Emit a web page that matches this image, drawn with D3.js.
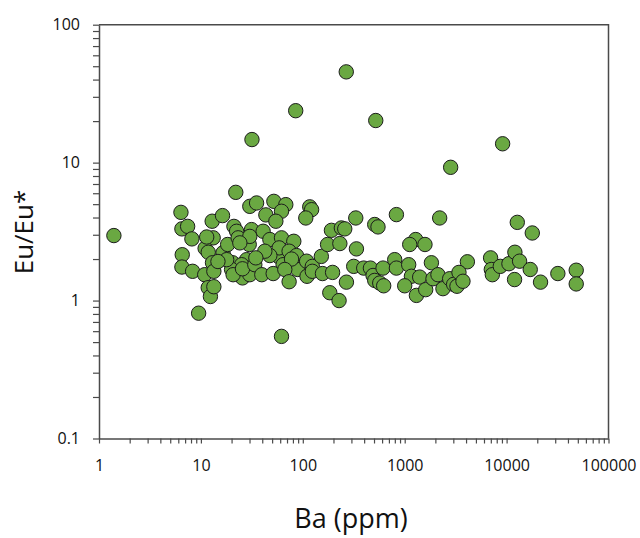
<script src="https://cdn.jsdelivr.net/npm/d3@7/dist/d3.min.js"></script>
<style>
  body { margin: 0; background: #fff; }
  text { font-family: "Open Sans", sans-serif; }
</style>
<div class="vis"></div>
<script>
  // Ba (ppm) vs Eu/Eu*
  const ba = [
    1.40, 6.37, 6.51, 7.41, 8.16, 6.56, 6.51, 8.29, 10.9, 11.8, 12.4, 13.4, 9.5, 12.9, 16.3,
    13.2, 11.0, 11.8, 13.0, 13.4, 16.5, 18.3, 20.5, 22.0, 21.1, 22.4, 23.2, 25.6, 30.2, 28.1,
    25.1, 29.8, 30.2, 35.2, 31.4, 11.4, 30.2, 20.0, 20.7, 25.6,
    17.9, 24.1, 58.6, 14.7, 33.8, 39.6, 89.3,
    52.0, 68.1, 61.8, 43.4, 54.4, 117, 122, 107, 40.8, 47.5, 61.8, 81.6, 58.6, 73.4, 86.7,
    47.5, 42.4, 34.6, 64.1, 77.5, 51.2, 66.6, 73.4, 109, 124, 110, 124, 152, 175, 191,
    239, 258, 231, 331, 336, 156, 196, 184, 227, 268, 316, 396, 461, 489, 508,
    569, 622, 613, 508, 547, 829, 798, 829, 61.8,
    2825, 2204, 12730, 17870, 1282, 1120, 1581, 4121, 1828, 1094, 1164, 1403, 1000, 1303, 1607,
    1895, 2120, 2373, 2762, 3021, 3258, 3408, 3730, 6966, 7079, 7244, 8670, 10540, 12060, 13410,
    11970, 17060, 21530, 31840, 48220, 48220,
    267, 85.2, 520, 31.7, 9140
  ];
  const euEu = [
    2.96, 4.36, 3.31, 3.45, 2.80, 2.15, 1.75, 1.63, 1.54, 1.24, 1.07, 1.26, 0.81, 3.76, 4.13,
    2.85, 2.39, 2.24, 1.88, 1.63, 2.22, 2.55, 1.88, 6.09, 3.45, 3.18, 2.85, 1.46, 1.54, 1.98,
    1.82, 2.55, 4.82, 5.10, 3.27, 2.89, 2.92, 1.68, 1.54, 1.70,
    1.98, 2.62, 2.07, 1.92, 1.82, 1.54, 1.68,
    5.24, 4.96, 4.44, 4.18, 3.76, 4.78, 4.56, 3.97, 3.18, 2.77, 2.85, 2.69, 2.41, 2.28, 2.12,
    2.12, 2.28, 2.04, 1.82, 2.00, 1.57, 1.68, 1.37, 1.93, 1.77, 1.50, 1.63, 2.09, 2.55, 3.23,
    3.36, 3.31, 2.59, 3.97, 2.37, 1.57, 1.60, 1.14, 1.00, 1.36, 1.77, 1.72, 1.72, 1.52, 1.40,
    1.34, 1.28, 1.72, 3.56, 3.42, 4.20, 1.98, 1.72, 0.55,
    9.25, 3.97, 3.69, 3.09, 2.77, 2.55, 2.55, 1.91, 1.88, 1.82, 1.50, 1.48, 1.28, 1.09, 1.20,
    1.44, 1.54, 1.22, 1.44, 1.31, 1.27, 1.60, 1.38, 2.04, 1.68, 1.54, 1.77, 1.85, 2.24, 1.93,
    1.42, 1.68, 1.36, 1.57, 1.66, 1.32,
    45.5, 23.8, 20.2, 14.7, 13.7
  ];
  const xDecades = [1, 10, 100, 1000, 10000, 100000];
  const yDecades = [0.1, 1, 10, 100];

  const width = 640, height = 538;
  const margin = {top: 24.7, right: 31.5, bottom: 99.5, left: 99};
  const data = ba.map((d, i) => ({ba: d, eu: euEu[i]}));

  const svg = d3.select('.vis').append('svg')
    .attr('width', width)
    .attr('height', height);

  const x = d3.scaleLog().domain([1, 100000]).range([margin.left, width - margin.right]);
  const y = d3.scaleLog().domain([0.1, 100]).range([height - margin.bottom, margin.top]);

  // every 1..9 multiple of each decade
  function minorTicks(decades) {
    let t = [];
    decades.forEach((d, i) => {
      if (i == decades.length - 1) { t.push(d); return; }
      for (let k = 1; k < 10; k++) t.push(d * k);
    });
    return t;
  }

  const axisColor = '#4a4a4a';

  // frame (top and right)
  svg.append('path')
    .attr('d', `M${x(1)},${y(100)}H${x(100000)}V${y(0.1)}`)
    .attr('fill', 'none')
    .attr('stroke', axisColor)
    .attr('stroke-width', 1.5);

  const gx = svg.append('g')
    .attr('transform', `translate(0,${y(0.1)})`)
    .call(d3.axisBottom(x).tickValues(minorTicks(xDecades)).tickFormat(d => xDecades.includes(d) ? String(d) : '')
      .tickSize(5).tickSizeOuter(0).tickPadding(16));
  const gy = svg.append('g')
    .attr('transform', `translate(${x(1)},0)`)
    .call(d3.axisLeft(y).tickValues(minorTicks(yDecades)).tickFormat(d => yDecades.includes(d) ? String(d) : '')
      .tickSize(6).tickSizeOuter(0).tickPadding(13));

  [gx, gy].forEach(g => {
    g.select('.domain').attr('stroke', axisColor).attr('stroke-width', 1.5);
    g.selectAll('.tick line').attr('stroke', axisColor).attr('stroke-width', 1.2);
    g.selectAll('.tick text')
      .attr('font-size', 16)
      .attr('font-family', '"Open Sans", sans-serif')
      .attr('fill', '#111');
  });

  // points
  svg.append('g')
    .selectAll('circle')
    .data(data)
    .join('circle')
    .attr('cx', d => x(d.ba))
    .attr('cy', d => y(d.eu))
    .attr('r', 7.2)
    .attr('fill', '#6aa842')
    .attr('stroke', '#1c1c1c')
    .attr('stroke-width', 1);

  // axis titles
  svg.append('text')
    .attr('x', 351)
    .attr('y', 528)
    .attr('text-anchor', 'middle')
    .attr('font-size', 27)
    .attr('fill', '#111')
    .text('Ba (ppm)');

  svg.append('text')
    .attr('transform', 'translate(33,232) rotate(-90)')
    .attr('text-anchor', 'middle')
    .attr('font-size', 26)
    .attr('fill', '#111')
    .text('Eu/Eu*');
</script>
